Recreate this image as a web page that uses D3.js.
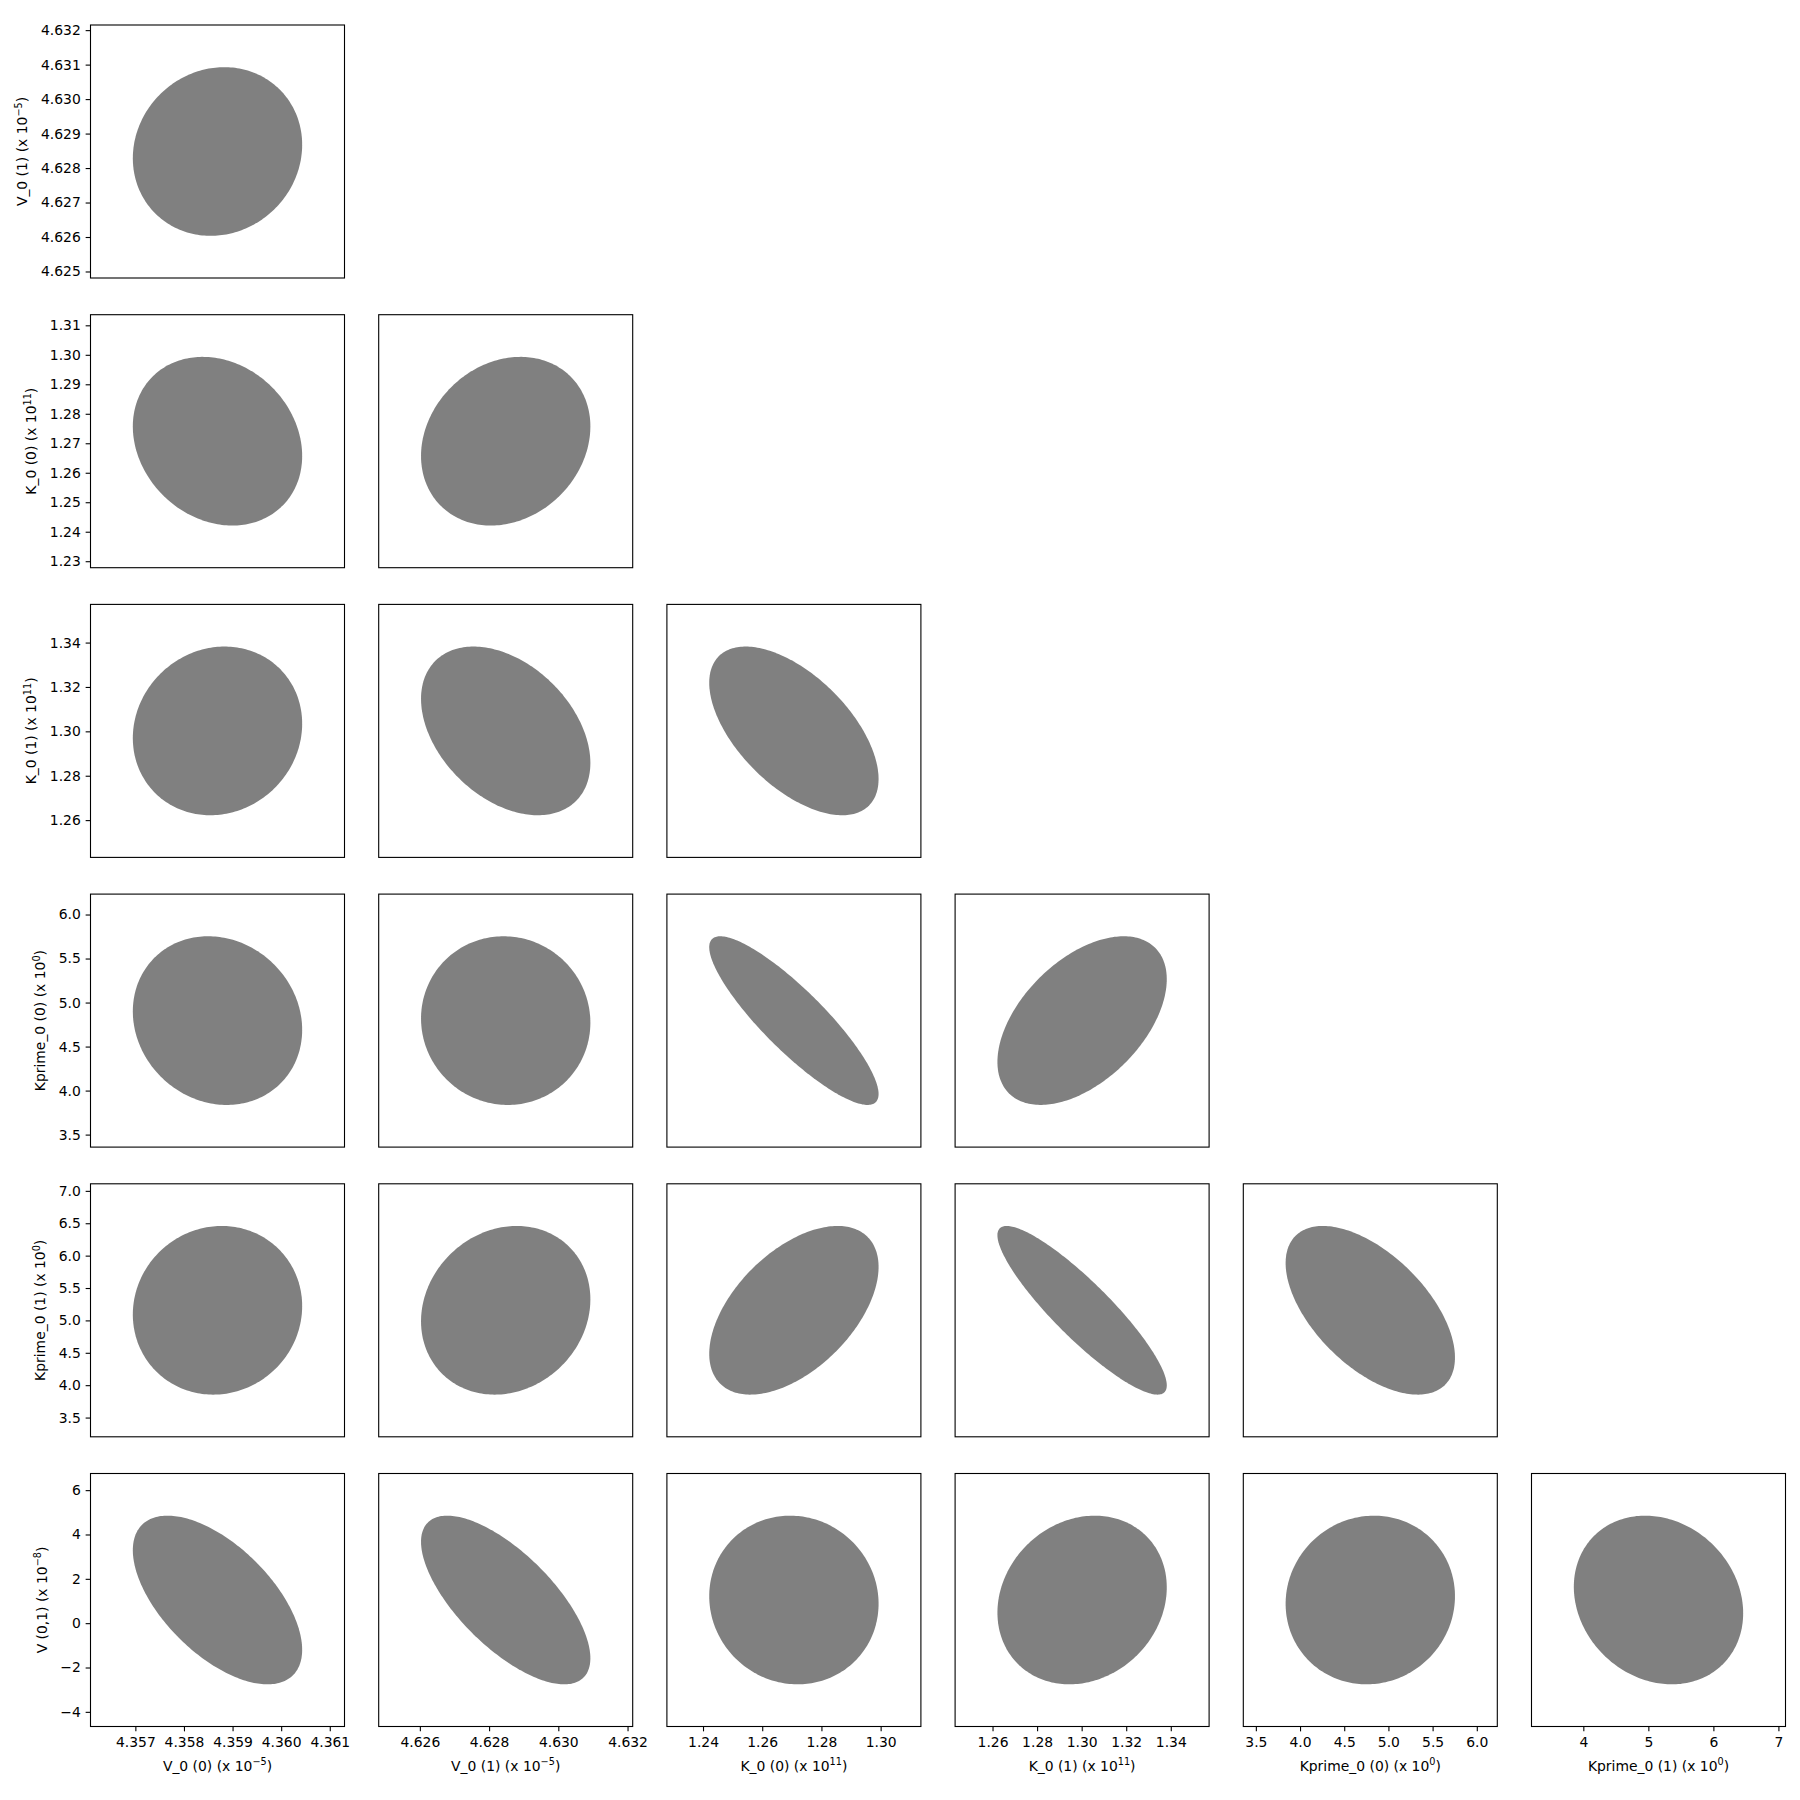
<!DOCTYPE html>
<html>
<head>
<meta charset="utf-8">
<script src="https://cdn.jsdelivr.net/npm/d3@7"></script>
<style>
	body { margin: 0; background: #fff; }
	text { font-family: "DejaVu Sans", sans-serif; }
</style>
</head>
<body>
<svg id="corner" width="1800" height="1800"></svg>
<script>
// parameters, in display units (value / 10^exponent)
var params = ["V_0 (0)", "V_0 (1)", "K_0 (0)", "K_0 (1)", "Kprime_0 (0)", "Kprime_0 (1)", "V (0,1)"];
var exponents = [-5, -5, 11, 11, 0, 0, -8];
var means = [4.35869, 4.62848, 1.2707, 1.3002, 4.795, 5.156, 1.045];
var sigmas = [0.000871, 0.001223, 0.0143, 0.0190, 0.479, 0.651, 1.902];

// lower triangle of the correlation matrix
var correlations = [
	[1],
	[0.08, 1],
	[-0.175, 0.175, 1],
	[0.085, -0.38, -0.57, 1],
	[-0.11, -0.025, -0.87, 0.49, 1],
	[0.05, 0.13, 0.515, -0.89, -0.56, 1],
	[-0.59, -0.69, -0.045, 0.15, 0.045, -0.157, 1]
];

// tick labels on the bottom row (by x parameter) and on the left column (by y parameter)
var xTickLabels = [
	["4.357", "4.358", "4.359", "4.360", "4.361"],
	["4.626", "4.628", "4.630", "4.632"],
	["1.24", "1.26", "1.28", "1.30"],
	["1.26", "1.28", "1.30", "1.32", "1.34"],
	["3.5", "4.0", "4.5", "5.0", "5.5", "6.0"],
	["4", "5", "6", "7"]
];
var yTickLabels = [
	null,
	["4.625", "4.626", "4.627", "4.628", "4.629", "4.630", "4.631", "4.632"],
	["1.23", "1.24", "1.25", "1.26", "1.27", "1.28", "1.29", "1.30", "1.31"],
	["1.26", "1.28", "1.30", "1.32", "1.34"],
	["3.5", "4.0", "4.5", "5.0", "5.5", "6.0"],
	["3.5", "4.0", "4.5", "5.0", "5.5", "6.0", "6.5", "7.0"],
	["−4", "−2", "0", "2", "4", "6"]
];

var nSigmaLimit = 3, nSigmaEllipse = 2;

corner_plot();

function corner_plot() {
	var svg = d3.select("#corner"),
		margin = {left: 90.5, top: 25},
		cellW = 254, cellH = 253,
		stepX = 288.2, stepY = 289.7,
		fs = 13.9,
		tickLen = 4.86;

	var n = params.length;

	function num(s) { return +s.replace("−", "-"); }

	function scaleFor(i, range) {
		return d3.scaleLinear()
			.domain([means[i] - nSigmaLimit * sigmas[i], means[i] + nSigmaLimit * sigmas[i]])
			.range(range);
	}

	function addLabel(sel, i) {
		sel.append("tspan").text(params[i] + " (x 10");
		sel.append("tspan").attr("font-size", 9.7).attr("dy", -5.5)
			.text(String(exponents[i]).replace("-", "−"));
		sel.append("tspan").attr("dy", 5.5).text(")");
	}

	for (var r = 1; r < n; r++) {
		for (var c = 0; c < r; c++) {
			var x0 = margin.left + c * stepX,
				y0 = margin.top + (r - 1) * stepY;
			var g = svg.append("g").attr("transform", `translate(${x0},${y0})`);

			var x = scaleFor(c, [0, cellW]),
				y = scaleFor(r, [cellH, 0]);

			// 2-sigma covariance ellipse
			var rho = correlations[r][c];
			var pts = d3.range(0, 240).map(function(k) {
				var t = k / 240 * 2 * Math.PI;
				var u = Math.cos(t), v = rho * Math.cos(t) + Math.sqrt(1 - rho * rho) * Math.sin(t);
				return [means[c] + nSigmaEllipse * sigmas[c] * u, means[r] + nSigmaEllipse * sigmas[r] * v];
			});

			g.append("path")
				.attr("d", d3.line().x(d => x(d[0])).y(d => y(d[1])).curve(d3.curveLinearClosed)(pts))
				.attr("fill", "#808080");

			g.append("rect")
				.attr("width", cellW).attr("height", cellH)
				.attr("fill", "none").attr("stroke", "#000").attr("stroke-width", 1.1);

			if (c == 0) {
				var labels = yTickLabels[r];
				var ya = g.append("g")
					.call(d3.axisLeft(y).tickValues(labels.map(num))
						.tickFormat((d, k) => labels[k])
						.tickSize(tickLen).tickSizeOuter(0).tickPadding(4.86));
				ya.select(".domain").remove();
				ya.selectAll("line").attr("stroke-width", 1.1);
				ya.selectAll("text").attr("font-size", fs).attr("font-family", "DejaVu Sans").attr("fill", "#000");
				var minX = 0;
				ya.selectAll("text").each(function() {
					var b = this.getBBox();
					minX = Math.min(minX, b.x);
				});
				var lx = minX - 13.5, ly = cellH / 2;
				g.append("text")
					.attr("x", lx).attr("y", ly)
					.attr("transform", `rotate(-90,${lx},${ly})`)
					.attr("text-anchor", "middle")
					.attr("font-size", fs)
					.call(addLabel, r);
			}

			if (r == n - 1) {
				var xl = xTickLabels[c];
				var xa = g.append("g").attr("transform", `translate(0,${cellH})`)
					.call(d3.axisBottom(x).tickValues(xl.map(num))
						.tickFormat((d, k) => xl[k])
						.tickSize(tickLen).tickSizeOuter(0).tickPadding(4.86));
				xa.select(".domain").remove();
				xa.selectAll("line").attr("stroke-width", 1.1);
				xa.selectAll("text").attr("font-size", fs).attr("font-family", "DejaVu Sans")
					.attr("fill", "#000").attr("dy", "0.79em");
				g.append("text")
					.attr("x", cellW / 2).attr("y", cellH + 44)
					.attr("text-anchor", "middle")
					.attr("font-size", fs)
					.call(addLabel, c);
			}
		}
	}
}
</script>
</body>
</html>
